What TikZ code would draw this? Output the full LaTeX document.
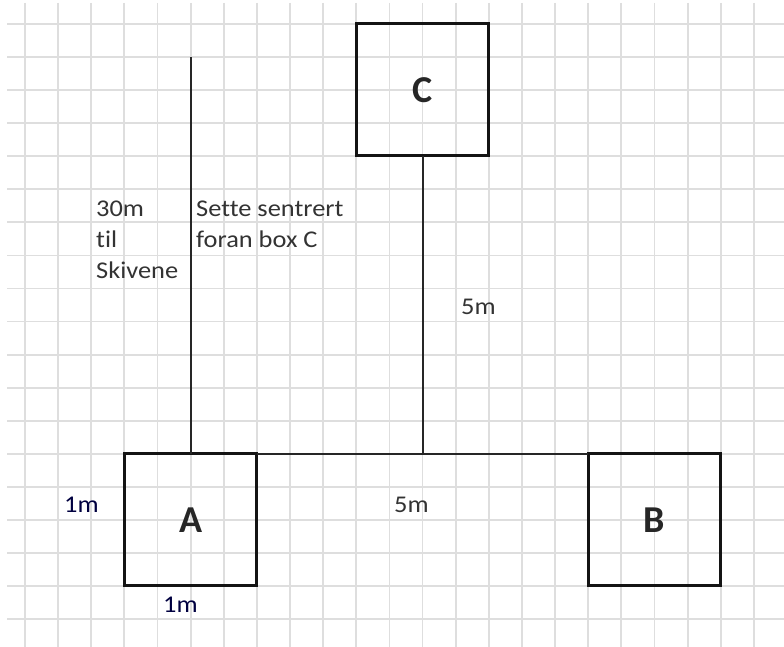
\documentclass[tikz,border=0pt]{standalone}
\usepackage{fontspec}
\setmainfont{Carlito}
\newfontfamily\lblfont[FakeStretch=1.1,Ligatures=NoCommon]{Carlito}
\begin{document}
\begin{tikzpicture}[x=1pt,y=-1pt,
  gridline/.style={draw=black!13,line width=1.8pt},
  boxnode/.style={draw=black!92,line width=3pt,outer sep=0pt,minimum width=132.5pt,minimum height=132pt,inner sep=0pt,font=\fontsize{38}{38}\selectfont\bfseries,text=black!85},
  conn/.style={draw=black!85,line width=2pt},
  lbl/.style={font=\lblfont\fontsize{24}{31}\selectfont,text=black!80,inner sep=0pt,anchor=base west,align=left},
  dim/.style={font=\lblfont\fontsize{24}{31}\selectfont,text=blue!25!black,inner sep=0pt,anchor=base west}]
\useasboundingbox (0,0) rectangle (784,647);
\fill[white] (0,0) rectangle (784,647);
% grid
\foreach \k in {0,...,22}{\draw[gridline] ({25+33.13*\k},3) -- ({25+33.13*\k},647);}
\foreach \k in {0,...,18}{\draw[gridline] (7,{24+33.06*\k}) -- (784,{24+33.06*\k});}
% boxes
\node[boxnode] (A) at (190.6,519.9) {A};
\node[boxnode] (B) at (654.5,519.9) {B};
\node[boxnode] (C) at (422.6,90) {C};
% connectors
\coordinate (T) at (190.6,57);
\draw[conn] (T) -- (A.north);
\draw[conn] (C.south) -- (C.south |- A.north);
\draw[conn] (A.north east) -- (B.north west);
% labels
\node[lbl] (l30) at (96,278) {30m\\til\\Skivene};
\node[lbl] (ls) at (196,247) {Sette sentrert\\foran box C};
\node[lbl] (l5a) at (461,314) {5m};
\node[lbl] (l5b) at (394,512) {5m};
\node[dim] (l1a) at (64,512) {1m};
\node[dim] (l1b) at (163,612) {1m};
\end{tikzpicture}
\end{document}
